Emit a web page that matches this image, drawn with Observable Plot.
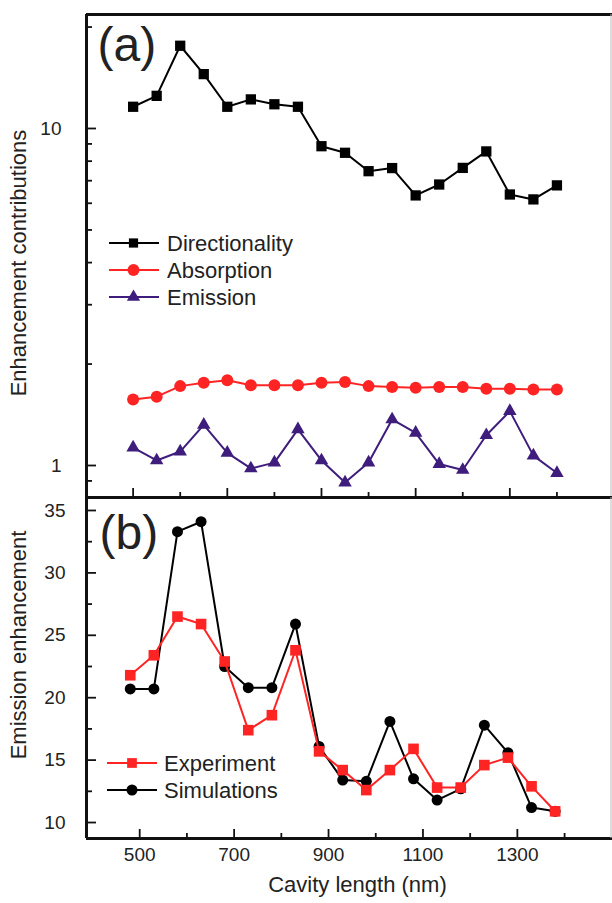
<!DOCTYPE html>
<html>
<head>
<meta charset="utf-8">
<script src="https://cdn.jsdelivr.net/npm/d3@7"></script>
<script src="https://cdn.jsdelivr.net/npm/@observablehq/plot@0.6"></script>
<style>
  body { margin: 0; background: #fff; }
  #fig { position: relative; width: 612px; height: 903px; overflow: hidden; background: #fff;
         font-family: "Liberation Sans", Arial, Helvetica, sans-serif; }
  #fig > * { position: absolute; left: 0; }
</style>
</head>
<body>
<div id="fig"></div>
<script>
// ---------- Data (panel a) ----------
const lengthA = [500, 550, 600, 650, 700, 750, 800, 850, 900, 950, 1000, 1050, 1100, 1150, 1200, 1250, 1300, 1350, 1400];
const directionality = [11.6, 12.5, 17.6, 14.5, 11.6, 12.2, 11.8, 11.6, 8.86, 8.47, 7.47, 7.63, 6.33, 6.82, 7.64, 8.55, 6.37, 6.16, 6.78];
const absorption = [1.57, 1.60, 1.72, 1.76, 1.79, 1.73, 1.73, 1.73, 1.76, 1.77, 1.72, 1.71, 1.70, 1.71, 1.71, 1.69, 1.69, 1.68, 1.68];
const emission = [1.13, 1.035, 1.10, 1.32, 1.09, 0.98, 1.02, 1.28, 1.035, 0.89, 1.02, 1.37, 1.25, 1.01, 0.97, 1.23, 1.45, 1.07, 0.95];

// ---------- Data (panel b) ----------
const lengthB = [480, 530, 580, 630, 680, 730, 780, 830, 880, 930, 980, 1030, 1080, 1130, 1180, 1230, 1280, 1330, 1380];
const experiment = [21.8, 23.4, 26.5, 25.9, 22.9, 17.4, 18.6, 23.8, 15.7, 14.2, 12.6, 14.2, 15.9, 12.8, 12.8, 14.6, 15.2, 12.9, 10.9];
const simulations = [20.7, 20.7, 33.3, 34.1, 22.5, 20.8, 20.8, 25.9, 16.1, 13.4, 13.3, 18.1, 13.5, 11.8, 12.7, 17.8, 15.6, 11.2, 10.9];

// ---------- Ticks / labels ----------
const xTickMajor = [500, 700, 900, 1100, 1300];
const xTickMinor = [600, 800, 1000, 1200, 1400];
const yTickMajorA = [1, 10];
const yTickMinorA = [0.9, 2, 3, 4, 5, 6, 7, 8, 9, 20];
const yTickMajorB = [10, 15, 20, 25, 30, 35];
const yTickMinorB = [12.5, 17.5, 22.5, 27.5, 32.5];
const seriesA = ["Directionality", "Absorption", "Emission"];
const seriesB = ["Experiment", "Simulations"];
const xTitle = "Cavity length (nm)";
const yTitleA = "Enhancement contributions";
const yTitleB = "Emission enhancement";

// ---------- Style ----------
const FONT = '"Liberation Sans", Arial, Helvetica, sans-serif';
const RED = "#ff2424";
const PURPLE = "#3e1d7c";
const INK = "#111";
const TXT = "#222";

const W = 612, mL = 86, mR = 0;
const innerW = W - mL - mR;

const rowsA = lengthA.map((x, i) => ({x, d: directionality[i], a: absorption[i], e: emission[i]}));
const rowsB = lengthB.map((x, i) => ({x, ex: experiment[i], si: simulations[i]}));

const fig = document.getElementById("fig");

// ---------- Panel (a) ----------
const topH = 500, topMT = 14, topMB = 3;
const innerHA = topH - topMT - topMB;
const xDomA = [401, 1518];
const yDomA = [0.8036, 21.79];

const plotA = Plot.plot({
  width: W, height: topH,
  marginLeft: mL, marginRight: mR, marginTop: topMT, marginBottom: topMB,
  style: {background: "transparent", overflow: "visible", fontFamily: FONT, color: TXT},
  x: {domain: xDomA, axis: null, label: null},
  y: {type: "log", domain: yDomA, label: null},
  marks: [
    Plot.ruleX(xTickMajor, {insetTop: innerHA - 9, stroke: INK, strokeWidth: 1.8}),
    Plot.ruleX(xTickMinor, {insetTop: innerHA - 5, stroke: INK, strokeWidth: 1.8}),
    Plot.ruleY(yTickMajorA, {insetRight: innerW - 10, stroke: INK, strokeWidth: 1.8}),
    Plot.ruleY(yTickMinorA, {insetRight: innerW - 6, stroke: INK, strokeWidth: 1.8}),
    Plot.axisY(yTickMajorA, {anchor: "left", tickSize: 0, tickPadding: 25, fontSize: 19, tickFormat: d => String(d), label: null}),
    Plot.line(rowsA, {x: "x", y: "d", stroke: "#000", strokeWidth: 2}),
    Plot.dot(rowsA, {x: "x", y: "d", symbol: "square", r: 5.8, fill: "#000", stroke: "none"}),
    Plot.line(rowsA, {x: "x", y: "a", stroke: RED, strokeWidth: 2}),
    Plot.dot(rowsA, {x: "x", y: "a", symbol: "circle", r: 6, fill: RED, stroke: "none"}),
    Plot.line(rowsA, {x: "x", y: "e", stroke: PURPLE, strokeWidth: 2}),
    Plot.dot(rowsA, {x: "x", y: "e", symbol: "triangle", r: 5, fill: PURPLE, stroke: "none"}),
    Plot.ruleX([xDomA[0]], {stroke: INK, strokeWidth: 3}),
    Plot.ruleY([yDomA[0], yDomA[1]], {stroke: INK, strokeWidth: 3}),
    Plot.ruleX([xDomA[1]], {stroke: "#bbb", strokeWidth: 1, dx: -1.5}),
    Plot.text(["(a)"], {frameAnchor: "top-left", textAnchor: "start", lineAnchor: "top", dx: 11, dy: 12, fontSize: 48, fill: TXT})
  ]
});
plotA.style.top = "0px";
fig.appendChild(plotA);

// ---------- Panel (b) ----------
const botTop = 483, botH = 420, botMT = 14, botMB = 65;
const innerHB = botH - botMT - botMB;
const xDomB = [387.3, 1501.5];
const yDomB = [8.72, 36.04];

const plotB = Plot.plot({
  width: W, height: botH,
  marginLeft: mL, marginRight: mR, marginTop: botMT, marginBottom: botMB,
  style: {background: "transparent", overflow: "visible", fontFamily: FONT, color: TXT},
  x: {domain: xDomB, label: null},
  y: {domain: yDomB, label: null},
  marks: [
    Plot.ruleX(xTickMajor, {insetTop: innerHB - 9, stroke: INK, strokeWidth: 1.8}),
    Plot.ruleX(xTickMinor, {insetTop: innerHB - 5, stroke: INK, strokeWidth: 1.8}),
    Plot.ruleY(yTickMajorB, {insetRight: innerW - 10, stroke: INK, strokeWidth: 1.8}),
    Plot.ruleY(yTickMinorB, {insetRight: innerW - 6, stroke: INK, strokeWidth: 1.8}),
    Plot.axisY(yTickMajorB, {anchor: "left", tickSize: 0, tickPadding: 21, fontSize: 19, tickFormat: d => String(d), label: null}),
    Plot.axisX(xTickMajor, {anchor: "bottom", tickSize: 0, tickPadding: 9, fontSize: 19, tickFormat: d => String(d), label: null}),
    Plot.line(rowsB, {x: "x", y: "si", stroke: "#000", strokeWidth: 2}),
    Plot.dot(rowsB, {x: "x", y: "si", symbol: "circle", r: 5.5, fill: "#000", stroke: "none"}),
    Plot.line(rowsB, {x: "x", y: "ex", stroke: RED, strokeWidth: 2}),
    Plot.dot(rowsB, {x: "x", y: "ex", symbol: "square", r: 6, fill: RED, stroke: "none"}),
    Plot.ruleX([xDomB[0]], {stroke: INK, strokeWidth: 3}),
    Plot.ruleY([yDomB[0], yDomB[1]], {stroke: INK, strokeWidth: 3}),
    Plot.ruleX([xDomB[1]], {stroke: "#bbb", strokeWidth: 1, dx: -1.5}),
    Plot.text(["(b)"], {frameAnchor: "top-left", textAnchor: "start", lineAnchor: "top", dx: 13, dy: 17, fontSize: 48, fill: TXT})
  ]
});
plotB.style.top = botTop + "px";
fig.appendChild(plotB);

// ---------- Titles and legends (overlay) ----------
const svg = d3.select(fig).append("svg")
  .attr("width", W).attr("height", 903)
  .style("top", "0px").style("pointer-events", "none")
  .style("font-family", FONT);

svg.append("text").attr("transform", "translate(26,263) rotate(-90)")
  .attr("text-anchor", "middle").attr("font-size", 22).attr("fill", TXT).text(yTitleA);
svg.append("text").attr("transform", "translate(26,645) rotate(-90)")
  .attr("text-anchor", "middle").attr("font-size", 22).attr("fill", TXT).text(yTitleB);
svg.append("text").attr("x", 357.5).attr("y", 892)
  .attr("text-anchor", "middle").attr("font-size", 22).attr("fill", TXT).text(xTitle);

function legendEntry(g, {y, x1, x2, xm, xt, color, symbol, r, label}) {
  g.append("line").attr("x1", x1).attr("x2", x2).attr("y1", y).attr("y2", y)
    .attr("stroke", color).attr("stroke-width", 2);
  g.append("path").attr("transform", `translate(${xm},${y})`)
    .attr("d", d3.symbol(symbol, r * r * Math.PI)()).attr("fill", color);
  g.append("text").attr("x", xt).attr("y", y).attr("dy", "0.36em")
    .attr("font-size", 22).attr("fill", TXT).text(label);
}
const gA = svg.append("g");
const legA = [
  {color: "#000", symbol: d3.symbolSquare, r: 5.2},
  {color: RED, symbol: d3.symbolCircle, r: 6},
  {color: PURPLE, symbol: d3.symbolTriangle, r: 4.9}
];
const legAy = [243, 270, 297];
seriesA.forEach((label, i) => legendEntry(gA, {y: legAy[i], x1: 109, x2: 159, xm: 133.5, xt: 167, ...legA[i], label}));

const gB = svg.append("g");
const legB = [
  {color: RED, symbol: d3.symbolSquare, r: 5.5},
  {color: "#000", symbol: d3.symbolCircle, r: 5.5}
];
const legBy = [763, 790];
seriesB.forEach((label, i) => legendEntry(gB, {y: legBy[i], x1: 107, x2: 157, xm: 132, xt: 164, ...legB[i], label}));
</script>
</body>
</html>
